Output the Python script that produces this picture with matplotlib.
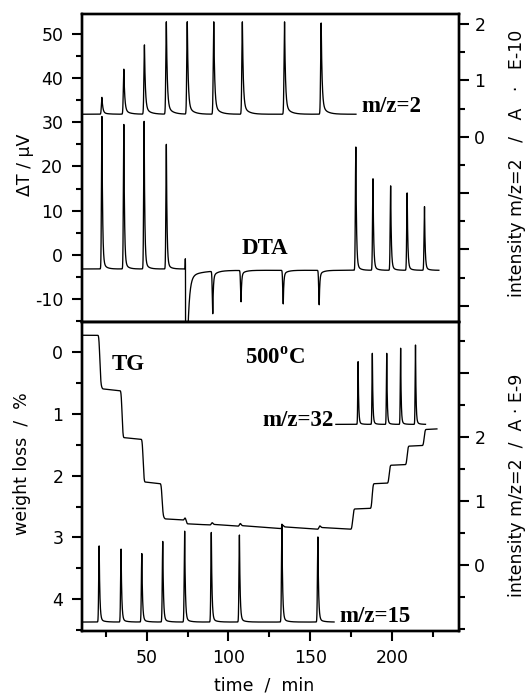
import numpy as np
import matplotlib
matplotlib.use("Agg")
import matplotlib.pyplot as plt
from matplotlib.ticker import MultipleLocator, FixedLocator, FuncFormatter

# ---------------- data ----------------
# time axis (min)
time_min, time_max = 10.4, 241.0

# DTA (left axis of top panel, microvolt)
dta_start, dta_end = 10.4, 228.7
dta_base_before, dta_base_after = -3.2, -3.5
dta_switch_time = 73.8
dta_pos_times = [22.6, 36.0, 48.4, 62.0, 177.9, 188.4, 199.2, 209.3, 219.9]
dta_pos_tops = [31.3, 29.5, 30.2, 25.0, 24.4, 17.2, 15.6, 14.0, 10.9]
dta_neg_times = [90.4, 107.7, 133.5, 155.5]
dta_neg_mins = [-13.1, -10.6, -11.1, -11.3]

# m/z = 2 (right axis of top panel, A E-10)
mz2_start, mz2_end = 10.4, 178.0
mz2_base = 0.40
mz2_times = [22.6, 36.0, 48.6, 62.0, 74.8, 91.0, 108.5, 134.3, 156.7]
mz2_tops = [0.70, 1.20, 1.63, 2.04, 2.04, 2.04, 2.04, 2.04, 2.02]

# TG (left axis of bottom panel, weight loss %)
tg_time = [10.4, 20.8, 21.8, 22.8, 33.6, 34.4, 35.4, 47.3, 48.3, 58.9, 59.9, 61.0,
           72.8, 73.5, 74.5, 89.2, 89.9, 91.0, 106.4, 107.1, 108.2, 132.4, 133.1,
           134.2, 155.0, 155.7, 156.8, 175.4, 176.6, 187.4, 188.4, 197.8, 198.8,
           208.8, 209.8, 219.2, 220.2, 227.5]
tg_loss = [-0.28, -0.28, 0.50, 0.59, 0.62, 0.62, 1.38, 1.41, 2.10, 2.13, 2.64, 2.70,
           2.72, 2.66, 2.78, 2.80, 2.75, 2.79, 2.82, 2.76, 2.81, 2.86, 2.79,
           2.83, 2.87, 2.80, 2.84, 2.87, 2.54, 2.53, 2.13, 2.12, 1.83,
           1.82, 1.52, 1.51, 1.25, 1.24]

# m/z = 15 (right axis of bottom panel, A E-9)
mz15_start, mz15_end = 10.4, 164.6
mz15_base = -0.89
mz15_times = [20.9, 34.3, 47.0, 59.8, 73.2, 89.5, 106.7, 132.7, 154.7]
mz15_tops = [0.30, 0.25, 0.18, 0.37, 0.53, 0.51, 0.47, 0.64, 0.44]

# m/z = 32 (right axis of bottom panel, A E-9)
mz32_start, mz32_end = 165.7, 220.5
mz32_base = 2.20
mz32_times = [179.3, 188.0, 196.8, 205.3, 214.4]
mz32_tops = [3.18, 3.31, 3.31, 3.39, 3.44]

# tick labels
dta_ticks = [-10, 0, 10, 20, 30, 40, 50]
tg_ticks = [0, 1, 2, 3, 4]
x_ticks = [50, 100, 150, 200]

# ---------------- drawing helpers ----------------
def peak(t, t0, amp, rise, tau_f, frac, tau_s):
    dt = t - t0
    dpos = np.clip(dt, 0, None)
    dneg = np.clip(dt, None, 0)
    left = np.exp(-0.5 * (dneg / rise) ** 2)
    right = (1 - frac) * np.exp(-dpos / tau_f) + frac * np.exp(-dpos / tau_s)
    return amp * np.where(dt < 0, left, right)


STEP = 0.02
plt.rcParams["font.family"] = ["DejaVu Sans"]
plt.rcParams["axes.unicode_minus"] = False
plt.rcParams["mathtext.fontset"] = "custom"
plt.rcParams["mathtext.rm"] = "Liberation Serif:bold"
plt.rcParams["mathtext.bf"] = "Liberation Serif:bold"

W, H = 529, 693
fig = plt.figure(figsize=(W / 100, H / 100), dpi=100)
L, R = 82 / W, 459 / W
ax1 = fig.add_axes([L, 1 - 322 / H, R - L, (322 - 14) / H])
ax2 = fig.add_axes([L, 1 - 631 / H, R - L, (631 - 322) / H], sharex=ax1)
ax1r = ax1.twinx()
ax2r = ax2.twinx()

LW = 0.95
TICKFS = 12.5
SPW = 1.7

# ---- DTA
t = np.arange(dta_start, dta_end, STEP)
base = np.where(t < dta_switch_time, dta_base_before, dta_base_after)
y = base.copy()
for t0, top in zip(dta_pos_times, dta_pos_tops):
    b = dta_base_before if t0 < dta_switch_time else dta_base_after
    y = y + peak(t, t0, top - b, 0.28, 0.40, 0.05, 2.0)
for t0, mn in zip(dta_neg_times, dta_neg_mins):
    y = y + peak(t, t0, mn - dta_base_after, 0.30, 0.35, 0.12, 2.5)
# switching artefact (small blip up, large clipped drop)
y = y + 2.3 * np.exp(-0.5 * ((t - (dta_switch_time - 0.2)) / 0.08) ** 2)
y = y + peak(t, dta_switch_time, -45.0, 0.04, 1.1, 0.04, 8.0)
ax1.plot(t, y, color="black", lw=LW)

# ---- m/z = 2
t = np.arange(mz2_start, mz2_end, STEP)
y = np.full_like(t, mz2_base)
for t0, top in zip(mz2_times, mz2_tops):
    y = y + peak(t, t0, top - mz2_base, 0.32, 0.55, 0.10, 3.0)
ax1r.plot(t, y, color="black", lw=LW)

# ---- TG
t = np.arange(tg_time[0], tg_time[-1], STEP)
y = np.interp(t, tg_time, tg_loss)
k = np.arange(-40, 41) * STEP
ker = np.exp(-0.5 * (k / 0.35) ** 2)
ker /= ker.sum()
yp = np.concatenate([np.full(40, y[0]), y, np.full(40, y[-1])])
y = np.convolve(yp, ker, mode="valid")
ax2.plot(t, y, color="black", lw=LW)

# ---- m/z = 15
t = np.arange(mz15_start, mz15_end, STEP)
y = np.full_like(t, mz15_base)
for t0, top in zip(mz15_times, mz15_tops):
    y = y + peak(t, t0, top - mz15_base, 0.28, 0.42, 0.04, 2.5)
ax2r.plot(t, y, color="black", lw=LW)

# ---- m/z = 32
t = np.arange(mz32_start, mz32_end, STEP)
y = np.full_like(t, mz32_base)
for t0, top in zip(mz32_times, mz32_tops):
    y = y + peak(t, t0, top - mz32_base, 0.22, 0.32, 0.04, 1.5)
ax2r.plot(t, y, color="black", lw=LW)

# ---------------- axes ----------------
ax1.set_xlim(time_min, time_max)
ax1.set_ylim(-15.2, 54.5)
ax1r.set_ylim(-3.29, 2.18)
ax2.set_ylim(4.52, -0.495)
ax2r.set_ylim(-1.03, 3.80)

ax1.yaxis.set_major_locator(FixedLocator(dta_ticks))
ax1.yaxis.set_minor_locator(MultipleLocator(5))
ax1.yaxis.set_major_formatter(FuncFormatter(lambda v, p: f"{int(round(v))}"))

ax1r.yaxis.set_major_locator(FixedLocator([-3, -2, -1, 0, 1, 2]))
ax1r.yaxis.set_minor_locator(MultipleLocator(0.5))
ax1r.yaxis.set_major_formatter(FuncFormatter(lambda v, p: f"{int(round(v))}" if v > -0.5 else ""))

ax2.yaxis.set_major_locator(FixedLocator(tg_ticks))
ax2.yaxis.set_minor_locator(MultipleLocator(0.5))
ax2.yaxis.set_major_formatter(FuncFormatter(lambda v, p: f"{int(round(v))}"))

ax2r.yaxis.set_major_locator(FixedLocator([0, 1, 2, 3]))
ax2r.yaxis.set_minor_locator(MultipleLocator(0.5))
ax2r.yaxis.set_major_formatter(FuncFormatter(lambda v, p: f"{int(round(v))}" if v < 2.5 else ""))

ax2.xaxis.set_major_locator(FixedLocator(x_ticks))
ax2.xaxis.set_minor_locator(MultipleLocator(25))
ax2.xaxis.set_major_formatter(FuncFormatter(lambda v, p: f"{int(round(v))}"))

for a in (ax1, ax2, ax1r, ax2r):
    for s in a.spines.values():
        s.set_linewidth(SPW)

ax1.tick_params(axis="x", which="both", bottom=False, top=False, labelbottom=False)
ax1r.tick_params(axis="x", which="both", bottom=False, top=False, labelbottom=False)
ax2r.tick_params(axis="x", which="both", bottom=False, top=False)

for a in (ax1, ax2):
    a.tick_params(axis="y", which="major", direction="out", length=7, width=1.5,
                  labelsize=TICKFS, pad=6.5)
    a.tick_params(axis="y", which="minor", direction="out", length=4.5, width=1.5)
for a in (ax1r, ax2r):
    a.tick_params(axis="y", which="major", direction="out", length=7, width=1.5,
                  labelsize=TICKFS, pad=4)
    a.tick_params(axis="y", which="minor", direction="out", length=4.5, width=1.5)
ax2.tick_params(axis="x", which="major", direction="out", length=7, width=1.5,
                labelsize=TICKFS, pad=6)
ax2.tick_params(axis="x", which="minor", direction="out", length=4.5, width=1.5)

# ---------------- labels ----------------
def px(x, y):
    return x / W, 1 - y / H

fig.text(*px(25, 165), "ΔT / µV", rotation=90, ha="center", va="center", fontsize=TICKFS)
fig.text(*px(22, 464), "weight loss  /  %", rotation=90, ha="center", va="center", fontsize=TICKFS)
fig.text(*px(264, 690), "time  /  min", ha="center", va="baseline", fontsize=TICKFS)
fig.text(*px(517, 163), "intensity m/z=2   /   A   ·   E-10", rotation=90,
         ha="center", va="center", fontsize=TICKFS)
fig.text(*px(517, 485), "intensity m/z=2  /  A · E-9", rotation=90,
         ha="center", va="center", fontsize=TICKFS)

serif = dict(family="Liberation Serif", weight="bold", fontsize=16.5)
fig.text(*px(361, 107), "m/z=2", ha="left", va="center", **serif)
fig.text(*px(242, 249), "DTA", ha="left", va="center", **serif)
fig.text(*px(112, 365), "TG", ha="left", va="center", **serif)
fig.text(*px(245, 358), r"500$^{\mathrm{o}}$C", ha="left", va="center", **serif)
fig.text(*px(262, 420), "m/z=32", ha="left", va="center", **serif)
fig.text(*px(339, 616), "m/z=15", ha="left", va="center", **serif)

fig.savefig("out.png", dpi=100)
